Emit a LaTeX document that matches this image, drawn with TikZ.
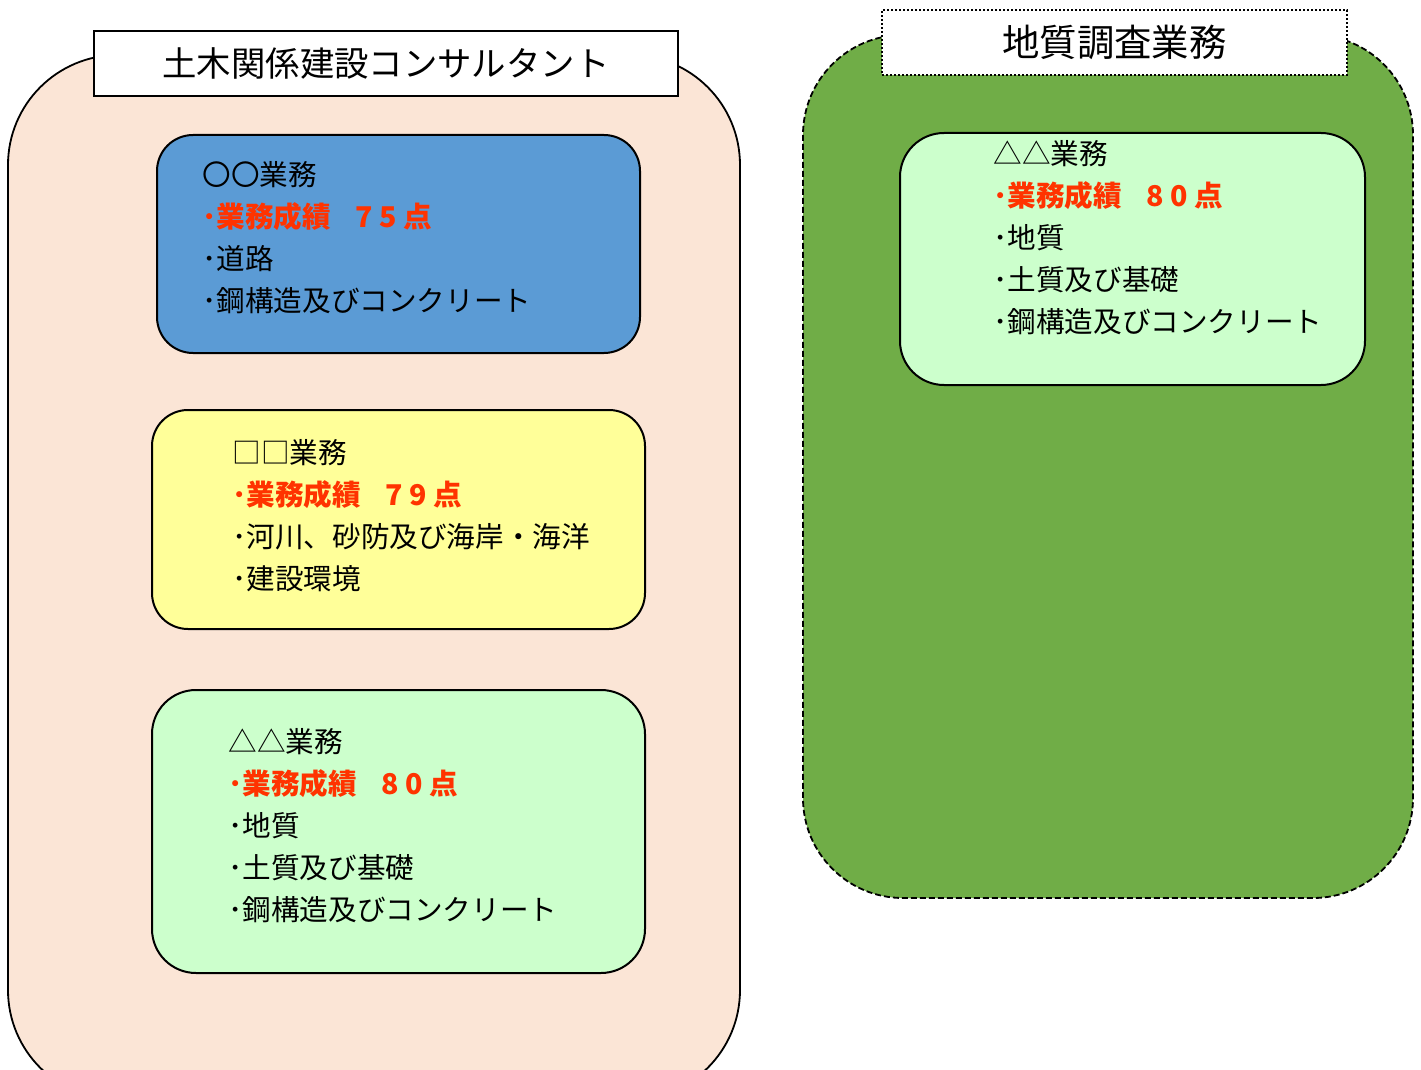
\documentclass[tikz,border=0pt]{standalone}
\usepackage{fontspec}
\setmainfont{Noto Sans CJK JP}

\definecolor{pinkfill}{HTML}{FBE5D6}
\definecolor{greenfill}{HTML}{70AD47}
\definecolor{bluefill}{HTML}{5B9BD5}
\definecolor{yellowfill}{HTML}{FFFF99}
\definecolor{mintfill}{HTML}{CCFFCC}
\definecolor{scorered}{HTML}{FF3300}

\tikzset{
  groupbox/.style={draw=black, line width=0.9pt, rounded corners=55pt},
  titlebox/.style={draw=black, line width=1pt, fill=white, inner sep=0pt,
    font=\fontsize{17.2}{21}\selectfont},
  taskbox/.style={draw=black, line width=1pt, rounded corners=18pt},
  tasktext/.style={anchor=west, inner sep=0pt, align=left,
    font=\fontsize{14.3}{21}\selectfont},
}
\newcommand{\scoreline}[2]{\textcolor{scorered}{\bfseries ･業務成績\hspace{0.85em}#1\hspace{3.5pt}#2\hspace{3pt}点}}

\begin{document}
\begin{tikzpicture}[x=0.5pt,y=-0.5pt]
\useasboundingbox (0,0) rectangle (1421,1070);
\clip (0,0) rectangle (1421,1070);
\fill[white] (0,0) rectangle (1421,1070);

% Group: civil engineering consultants
\node[groupbox, fill=pinkfill, minimum width=366pt, minimum height=522.5pt] (civil) at (374,577.5) {};
\node[titlebox, minimum width=292pt, minimum height=32.5pt] (civiltitle) at (386,63.5) {土木関係建設コンサルタント};

% Group: geological survey
\node[groupbox, fill=greenfill, dash pattern=on 3pt off 1.5pt, rounded corners=50pt,
  minimum width=305pt, minimum height=431.5pt] (geo) at (1108,466.5) {};
\node[titlebox, densely dotted, font=\fontsize{18.7}{21}\selectfont,
  minimum width=232.5pt, minimum height=32.5pt] (geotitle) at (1114.5,42.5) {地質調査業務};

% Task boxes
\node[taskbox, fill=bluefill, minimum width=241.5pt, minimum height=109pt] (taskA) at (398.5,244) {};
\node[taskbox, fill=yellowfill, minimum width=246.5pt, minimum height=109.5pt] (taskB) at (398.5,519.5) {};
\node[taskbox, fill=mintfill, rounded corners=22pt, minimum width=246.5pt, minimum height=141.5pt] (taskC) at (398.5,831.5) {};
\node[taskbox, fill=mintfill, rounded corners=22pt, minimum width=232.5pt, minimum height=126pt] (taskD) at (1132.5,259) {};

% Texts
\node[tasktext] (textA) at (202,238) {〇〇業務\\ \scoreline{7}{5}\\ ･道路\\ ･鋼構造及びコンクリート};
\node[tasktext] (textB) at (232,515.5) {□□業務\\ \scoreline{7}{9}\\ ･河川、砂防及び海岸・海洋\\ ･建設環境};
\node[tasktext] (textC) at (228,825.5) {△△業務\\ \scoreline{8}{0}\\ ･地質\\ ･土質及び基礎\\ ･鋼構造及びコンクリート};
\node[tasktext] (textD) at (993,237.5) {△△業務\\ \scoreline{8}{0}\\ ･地質\\ ･土質及び基礎\\ ･鋼構造及びコンクリート};
\end{tikzpicture}
\end{document}
